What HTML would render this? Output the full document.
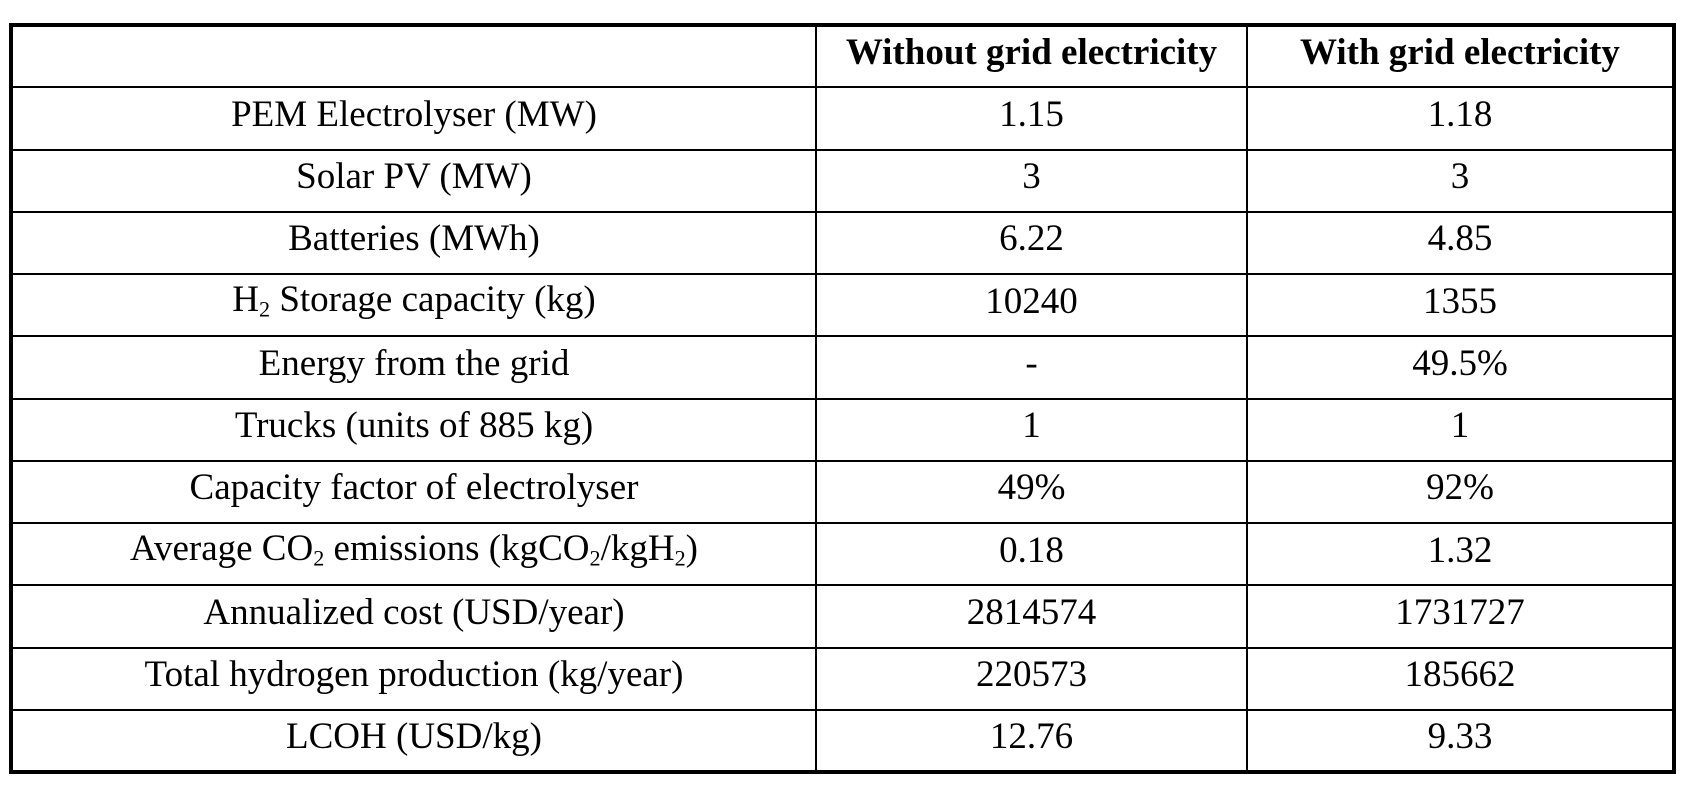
<!DOCTYPE html>
<html><head><meta charset="utf-8"><style>
html,body{margin:0;padding:0;background:#fff;}
body{width:1682px;height:792px;position:relative;overflow:hidden;font-family:"Liberation Serif",serif;color:#000;}
table{position:absolute;left:9px;top:23px;width:1663px;height:751px;border-collapse:collapse;border:4px solid #000;table-layout:fixed;}
td,th{border:2px solid #000;text-align:center;font-size:37px;padding:0 0 8px 0;line-height:1;white-space:nowrap;}
th{font-weight:bold;}
tr{height:62px;}
sub{font-size:60%;vertical-align:-0.25em;}
</style></head><body>
<table>
<colgroup><col style="width:805px"><col style="width:431px"><col style="width:427px"></colgroup>
<tr><th></th><th>Without grid electricity</th><th>With grid electricity</th></tr>
<tr><td>PEM Electrolyser (MW)</td><td>1.15</td><td>1.18</td></tr>
<tr><td>Solar PV (MW)</td><td>3</td><td>3</td></tr>
<tr><td>Batteries (MWh)</td><td>6.22</td><td>4.85</td></tr>
<tr><td>H<sub>2</sub> Storage capacity (kg)</td><td>10240</td><td>1355</td></tr>
<tr><td>Energy from the grid</td><td>-</td><td>49.5%</td></tr>
<tr><td>Trucks (units of 885 kg)</td><td>1</td><td>1</td></tr>
<tr><td>Capacity factor of electrolyser</td><td>49%</td><td>92%</td></tr>
<tr><td>Average CO<sub>2</sub> emissions (kgCO<sub>2</sub>/kgH<sub>2</sub>)</td><td>0.18</td><td>1.32</td></tr>
<tr><td>Annualized cost (USD/year)</td><td>2814574</td><td>1731727</td></tr>
<tr><td>Total hydrogen production (kg/year)</td><td>220573</td><td>185662</td></tr>
<tr><td>LCOH (USD/kg)</td><td>12.76</td><td>9.33</td></tr>
</table>
</body></html>
